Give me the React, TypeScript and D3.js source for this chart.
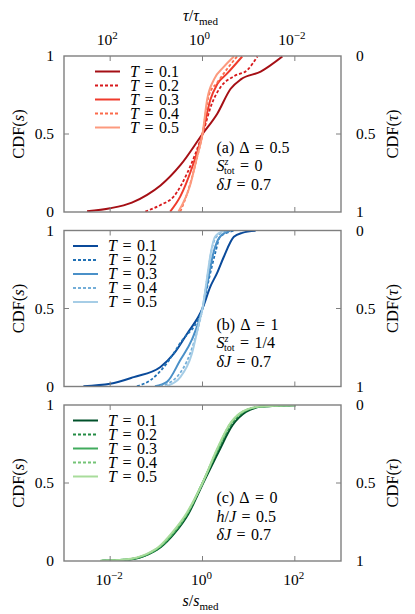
import React from "react";
import * as d3 from "d3";

// ---- data: [log10(s/s_med), CDF(s)] ----
const tempLabels = ["0.1", "0.2", "0.3", "0.4", "0.5"];
const dashedSeries = [false, true, false, true, false];

const redColors = ["#a50f15", "#d7191c", "#ef3b2c", "#fb6a4a", "#fc9a7e"];
const blueColors = ["#0a4a9a", "#2171b5", "#4a90c8", "#74aed8", "#a6cde6"];
const greenColors = ["#00502a", "#238b45", "#41ab5d", "#74c476", "#a8dc9b"];

const aT01: [number, number][] = [[-2.5, 0.005], [-2, 0.024], [-1.53, 0.06], [-1.2, 0.11], [-0.91, 0.17], [-0.48, 0.3], [0, 0.5], [0.32, 0.63], [0.61, 0.79], [0.83, 0.85], [1.26, 0.9], [1.73, 0.997]];
const aT02: [number, number][] = [[-1.24, 0.003], [-0.91, 0.045], [-0.62, 0.1], [-0.33, 0.25], [0, 0.5], [0.21, 0.7], [0.39, 0.8], [0.68, 0.87], [0.97, 0.91], [1.19, 0.997]];
const aT03: [number, number][] = [[-0.7, 0.003], [-0.48, 0.1], [-0.22, 0.29], [0, 0.5], [0.17, 0.72], [0.32, 0.82], [0.54, 0.89], [0.86, 0.997]];
const aT04: [number, number][] = [[-0.48, 0.003], [-0.33, 0.12], [-0.15, 0.31], [0, 0.5], [0.14, 0.75], [0.32, 0.83], [0.54, 0.92], [0.75, 0.997]];
const aT05: [number, number][] = [[-0.52, 0.003], [-0.26, 0.18], [-0.12, 0.35], [0, 0.5], [0.1, 0.72], [0.25, 0.85], [0.46, 0.93], [0.68, 0.997]];

const bT01: [number, number][] = [[-2.58, 0.002], [-2, 0.017], [-1.49, 0.06], [-0.91, 0.125], [-0.62, 0.21], [-0.33, 0.34], [0, 0.5], [0.17, 0.64], [0.32, 0.73], [0.46, 0.83], [0.68, 0.96], [0.86, 0.985], [1.15, 0.998]];
const bT02: [number, number][] = [[-1.42, 0.002], [-1.13, 0.04], [-0.77, 0.15], [-0.48, 0.28], [0, 0.5], [0.14, 0.69], [0.28, 0.86], [0.38, 0.96], [0.68, 0.998]];
const bT03: [number, number][] = [[-1.03, 0.002], [-0.77, 0.03], [-0.48, 0.17], [-0.23, 0.3], [0, 0.5], [0.13, 0.7], [0.24, 0.86], [0.38, 0.96], [0.6, 0.998]];
const bT04: [number, number][] = [[-0.92, 0.002], [-0.56, 0.06], [-0.27, 0.21], [-0.12, 0.35], [0, 0.5], [0.1, 0.69], [0.2, 0.88], [0.3, 0.96], [0.53, 0.998]];
const bT05: [number, number][] = [[-0.78, 0.002], [-0.48, 0.06], [-0.23, 0.21], [-0.08, 0.4], [0, 0.5], [0.1, 0.7], [0.17, 0.84], [0.27, 0.96], [0.46, 0.998]];

const cT01: [number, number][] = [[-2.18, 0.002], [-1.64, 0.008], [-1.2, 0.04], [-0.9, 0.09], [-0.6, 0.18], [-0.31, 0.3], [0, 0.49], [0.35, 0.7], [0.65, 0.87], [0.94, 0.955], [1.3, 0.99], [2.02, 0.999]];
const cT02: [number, number][] = [[-2.15, 0.002], [-1.62, 0.008], [-1.2, 0.04], [-0.91, 0.09], [-0.62, 0.18], [-0.33, 0.3], [0, 0.5], [0.33, 0.71], [0.62, 0.875], [0.91, 0.958], [1.27, 0.99], [2.02, 0.999]];
const cT03: [number, number][] = [[-2.18, 0.002], [-1.64, 0.009], [-1.21, 0.041], [-0.92, 0.091], [-0.63, 0.18], [-0.34, 0.3], [0, 0.5], [0.32, 0.71], [0.61, 0.88], [0.9, 0.96], [1.26, 0.99], [2.02, 0.999]];
const cT04: [number, number][] = [[-2.2, 0.002], [-1.66, 0.009], [-1.22, 0.042], [-0.93, 0.092], [-0.64, 0.18], [-0.34, 0.3], [0, 0.5], [0.31, 0.71], [0.6, 0.88], [0.89, 0.96], [1.25, 0.99], [2.02, 0.999]];
const cT05: [number, number][] = [[-2.22, 0.002], [-1.68, 0.01], [-1.23, 0.043], [-0.94, 0.093], [-0.65, 0.185], [-0.35, 0.305], [0, 0.5], [0.31, 0.715], [0.6, 0.882], [0.88, 0.96], [1.24, 0.99], [2.02, 0.999]];

const panelA = [aT01, aT02, aT03, aT04, aT05];
const panelB = [bT01, bT02, bT03, bT04, bT05];
const panelC = [cT01, cT02, cT03, cT04, cT05];

const sTicks = [1e-2, 1, 1e2];
const sTickExp = ["\u22122", "0", "2"];
const tauTicks = [1e2, 1, 1e-2];
const tauTickExp = ["2", "0", "\u22122"];
const yTicks = [0, 0.5, 1];
const yTickLabels = ["0", "0.5", "1"];
const yTickLabelsRight = ["1", "0.5", "0"];

// ---- layout ----
const W = 415;
const Hh = 614;
const X0 = 64;
const X1 = 341;
const PH = 156;
const tops = [56, 230.5, 405];
const FONT = "'Liberation Serif', 'Times New Roman', serif";
const FRAME = "#7f7f7f";
const FS = 16;
const EQ = 5.5;

const x = d3.scaleLog().domain([1e-3, 1e3]).range([X0, X1]);
const xTau = d3.scaleLog().domain([1e3, 1e-3]).range([X0, X1]);

function Eq({ rhs }: { rhs: string }) {
  return (
    <>
      <tspan dx={EQ}>=</tspan>
      <tspan dx={EQ}>{rhs}</tspan>
    </>
  );
}

function Panel({ top, data, colors, legendX, annot, id }: any) {
  const y = d3.scaleLinear().domain([0, 1]).range([top + PH, top]);
  const line = d3
    .line<[number, number]>()
    .x((d) => x(Math.pow(10, d[0])))
    .y((d) => y(d[1]))
    .curve(d3.curveMonotoneX);
  const legendY0 = top + 15.5;
  return (
    <g>
      <defs>
        <clipPath id={id}>
          <rect x={X0} y={top} width={X1 - X0} height={PH} />
        </clipPath>
      </defs>
      <g clipPath={`url(#${id})`}>
        {data.map((ser: [number, number][], i: number) => (
          <path
            key={i}
            d={line(ser) || ""}
            fill="none"
            stroke={colors[i]}
            strokeWidth={dashedSeries[i] ? 1.8 : 2}
            strokeDasharray={dashedSeries[i] ? "3,2" : undefined}
          />
        ))}
      </g>
      <rect x={X0} y={top} width={X1 - X0} height={PH} fill="none" stroke={FRAME} strokeWidth={1.4} />
      {sTicks.map((t, i) => (
        <g key={i}>
          <line x1={x(t)} x2={x(t)} y1={top + PH} y2={top + PH - 5} stroke={FRAME} strokeWidth={1} />
          <line x1={x(t)} x2={x(t)} y1={top} y2={top + 5} stroke={FRAME} strokeWidth={1} />
        </g>
      ))}
      <line x1={X0} x2={X0 + 5} y1={y(0.5)} y2={y(0.5)} stroke={FRAME} strokeWidth={1} />
      <line x1={X1} x2={X1 - 5} y1={y(0.5)} y2={y(0.5)} stroke={FRAME} strokeWidth={1} />
      {yTicks.map((t, i) => (
        <text key={"l" + i} x={54} y={y(t) + 5} textAnchor="end" fontSize={15.5} fontFamily={FONT}>
          {yTickLabels[i]}
        </text>
      ))}
      {yTicks.map((t, i) => (
        <text key={"r" + i} x={356} y={y(t) + 5} textAnchor="start" fontSize={15.5} fontFamily={FONT}>
          {yTickLabelsRight[i]}
        </text>
      ))}
      <text transform={`translate(24,${y(0.5)}) rotate(-90)`} textAnchor="middle" fontSize={16.5} fontFamily={FONT}>
        CDF(<tspan fontStyle="italic">s</tspan>)
      </text>
      <text transform={`translate(398,${y(0.5)}) rotate(-90)`} textAnchor="middle" fontSize={16.5} fontFamily={FONT}>
        CDF(<tspan fontStyle="italic">τ</tspan>)
      </text>
      {tempLabels.map((lab, i) => {
        const ly = legendY0 + i * 14;
        return (
          <g key={"lg" + i}>
            <line
              x1={legendX}
              x2={legendX + 25}
              y1={ly}
              y2={ly}
              stroke={colors[i]}
              strokeWidth={dashedSeries[i] ? 1.8 : 2}
              strokeDasharray={dashedSeries[i] ? "3,2" : undefined}
            />
            <text x={legendX + 35} y={ly + 5} fontSize={FS} fontFamily={FONT}>
              <tspan fontStyle="italic">T</tspan>
              <Eq rhs={lab} />
            </text>
          </g>
        );
      })}
      {annot}
    </g>
  );
}

export default function App() {
  const ax = 216.5;
  const annotA = (
    <g fontFamily={FONT} fontSize={FS}>
      <text x={ax} y={tops[0] + 97}>
        (a)<tspan dx={5}>Δ</tspan>
        <Eq rhs="0.5" />
      </text>
      <text x={ax} y={tops[0] + 115}>
        <tspan fontStyle="italic">S</tspan>
        <tspan fontStyle="italic" fontSize={10} dy={-6}>z</tspan>
        <tspan fontSize={10} dx={-4.5} dy={9}>tot</tspan>
        <tspan dy={-3} dx={EQ}>=</tspan>
        <tspan dx={EQ}>0</tspan>
      </text>
      <text x={ax} y={tops[0] + 134}>
        <tspan fontStyle="italic">δJ</tspan>
        <Eq rhs="0.7" />
      </text>
    </g>
  );
  const annotB = (
    <g fontFamily={FONT} fontSize={FS}>
      <text x={ax} y={tops[1] + 99}>
        (b)<tspan dx={5}>Δ</tspan>
        <Eq rhs="1" />
      </text>
      <text x={ax} y={tops[1] + 117}>
        <tspan fontStyle="italic">S</tspan>
        <tspan fontStyle="italic" fontSize={10} dy={-6}>z</tspan>
        <tspan fontSize={10} dx={-4.5} dy={9}>tot</tspan>
        <tspan dy={-3} dx={EQ}>=</tspan>
        <tspan dx={EQ}>1/4</tspan>
      </text>
      <text x={ax} y={tops[1] + 136}>
        <tspan fontStyle="italic">δJ</tspan>
        <Eq rhs="0.7" />
      </text>
    </g>
  );
  const annotC = (
    <g fontFamily={FONT} fontSize={FS}>
      <text x={ax} y={tops[2] + 98}>
        (c)<tspan dx={5}>Δ</tspan>
        <Eq rhs="0" />
      </text>
      <text x={ax} y={tops[2] + 117}>
        <tspan fontStyle="italic">h</tspan>/<tspan fontStyle="italic">J</tspan>
        <Eq rhs="0.5" />
      </text>
      <text x={ax} y={tops[2] + 135}>
        <tspan fontStyle="italic">δJ</tspan>
        <Eq rhs="0.7" />
      </text>
    </g>
  );

  return (
    <svg width={W} height={Hh} style={{ position: "absolute", left: 0, top: 0, background: "#fff" }}>
      <rect width={W} height={Hh} fill="#fff" />
      <text x={(X0 + X1) / 2 - 2} y={21} textAnchor="middle" fontSize={16} fontFamily={FONT}>
        <tspan fontStyle="italic">τ</tspan>/<tspan fontStyle="italic">τ</tspan>
        <tspan fontSize={11} dy={4}>med</tspan>
      </text>
      {tauTicks.map((t, i) => (
        <text key={i} x={xTau(t) - 3} y={45} textAnchor="middle" fontSize={15.5} fontFamily={FONT}>
          10<tspan fontSize={11} dy={-6}>{tauTickExp[i]}</tspan>
        </text>
      ))}
      <Panel id="cpa" top={tops[0]} data={panelA} colors={redColors} legendX={95} annot={annotA} />
      <Panel id="cpb" top={tops[1]} data={panelB} colors={blueColors} legendX={73} annot={annotB} />
      <Panel id="cpc" top={tops[2]} data={panelC} colors={greenColors} legendX={73} annot={annotC} />
      {sTicks.map((t, i) => (
        <text key={i} x={x(t) - 1} y={585} textAnchor="middle" fontSize={15.5} fontFamily={FONT}>
          10<tspan fontSize={11} dy={-6}>{sTickExp[i]}</tspan>
        </text>
      ))}
      <text x={(X0 + X1) / 2 - 2} y={606} textAnchor="middle" fontSize={16} fontFamily={FONT}>
        <tspan fontStyle="italic">s</tspan>/<tspan fontStyle="italic">s</tspan>
        <tspan fontSize={11} dy={4}>med</tspan>
      </text>
    </svg>
  );
}
